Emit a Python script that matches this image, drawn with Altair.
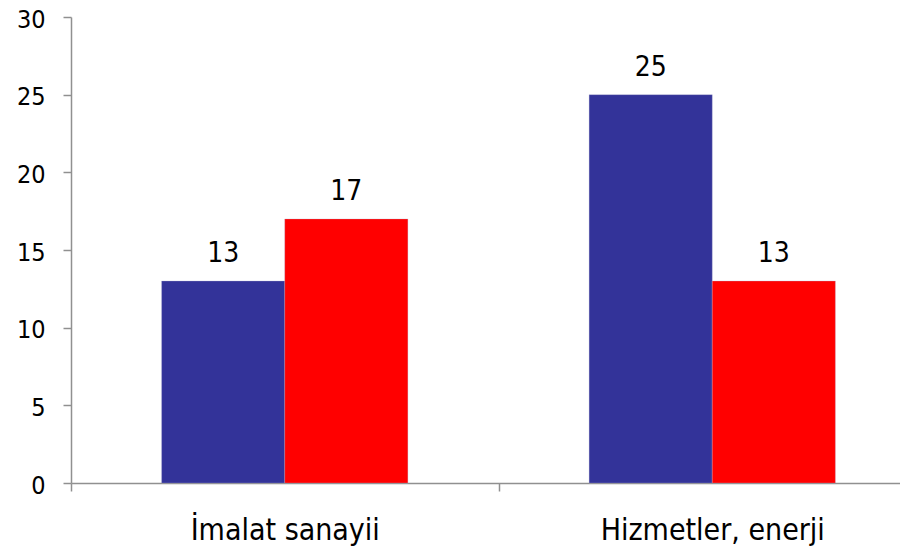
import altair as alt
import pandas as pd

categories = ["İmalat sanayii", "Hizmetler, enerji"]
series_names = ["Seri 1", "Seri 2"]
series1 = [13, 25]
series2 = [17, 13]
colors = ["#333399", "#FF0000"]
y_ticks = [0, 5, 10, 15, 20, 25, 30]

rows = []
for c, a, b in zip(categories, series1, series2):
    rows.append({"kategori": c, "seri": series_names[0], "deger": a})
    rows.append({"kategori": c, "seri": series_names[1], "deger": b})
df = pd.DataFrame(rows)

FONT = "DejaVu Sans Condensed"
AX = "#909090"

base = alt.Chart(df).encode(
    x=alt.X(
        "kategori:N",
        sort=categories,
        scale=alt.Scale(range=[0, 855], paddingInner=0, paddingOuter=0),
        axis=alt.Axis(
            title=None, labelAngle=0, tickBand="extent", tickSize=8,
            labelPadding=24, labelFontSize=30, labelFont=FONT, labelLimit=0,
            labelColor="black", domainColor=AX, tickColor=AX,
            domainWidth=1.5, tickWidth=1.5,
        ),
    ),
    xOffset=alt.XOffset(
        "seri:N", sort=series_names,
        scale=alt.Scale(paddingInner=0, paddingOuter=0.736),
    ),
    y=alt.Y(
        "deger:Q",
        scale=alt.Scale(domain=[0, 30], nice=False),
        axis=alt.Axis(
            title=None, values=y_ticks, grid=False, tickSize=8,
            labelPadding=18, labelFontSize=25, labelFont=FONT, labelOffset=2,
            labelColor="black", domainColor=AX, tickColor=AX,
            domainWidth=1.5, tickWidth=1.5,
        ),
    ),
)

bars = base.mark_bar(stroke="#b0b0d0", strokeWidth=0.5, strokeOpacity=0.6).encode(
    color=alt.Color("seri:N", scale=alt.Scale(domain=series_names, range=colors), legend=None)
)

labels = base.mark_text(dy=-19, baseline="alphabetic", fontSize=28, font=FONT, color="black").encode(
    text="deger:Q"
)

chart = (bars + labels).properties(
    width=828,
    height=466,
    autosize=alt.AutoSizeParams(type="none"),
    padding={"left": 63, "top": 9, "right": 1, "bottom": 66},
).configure_view(stroke=None)

chart.save("out.html", embed_options={"renderer": "svg", "actions": False})
